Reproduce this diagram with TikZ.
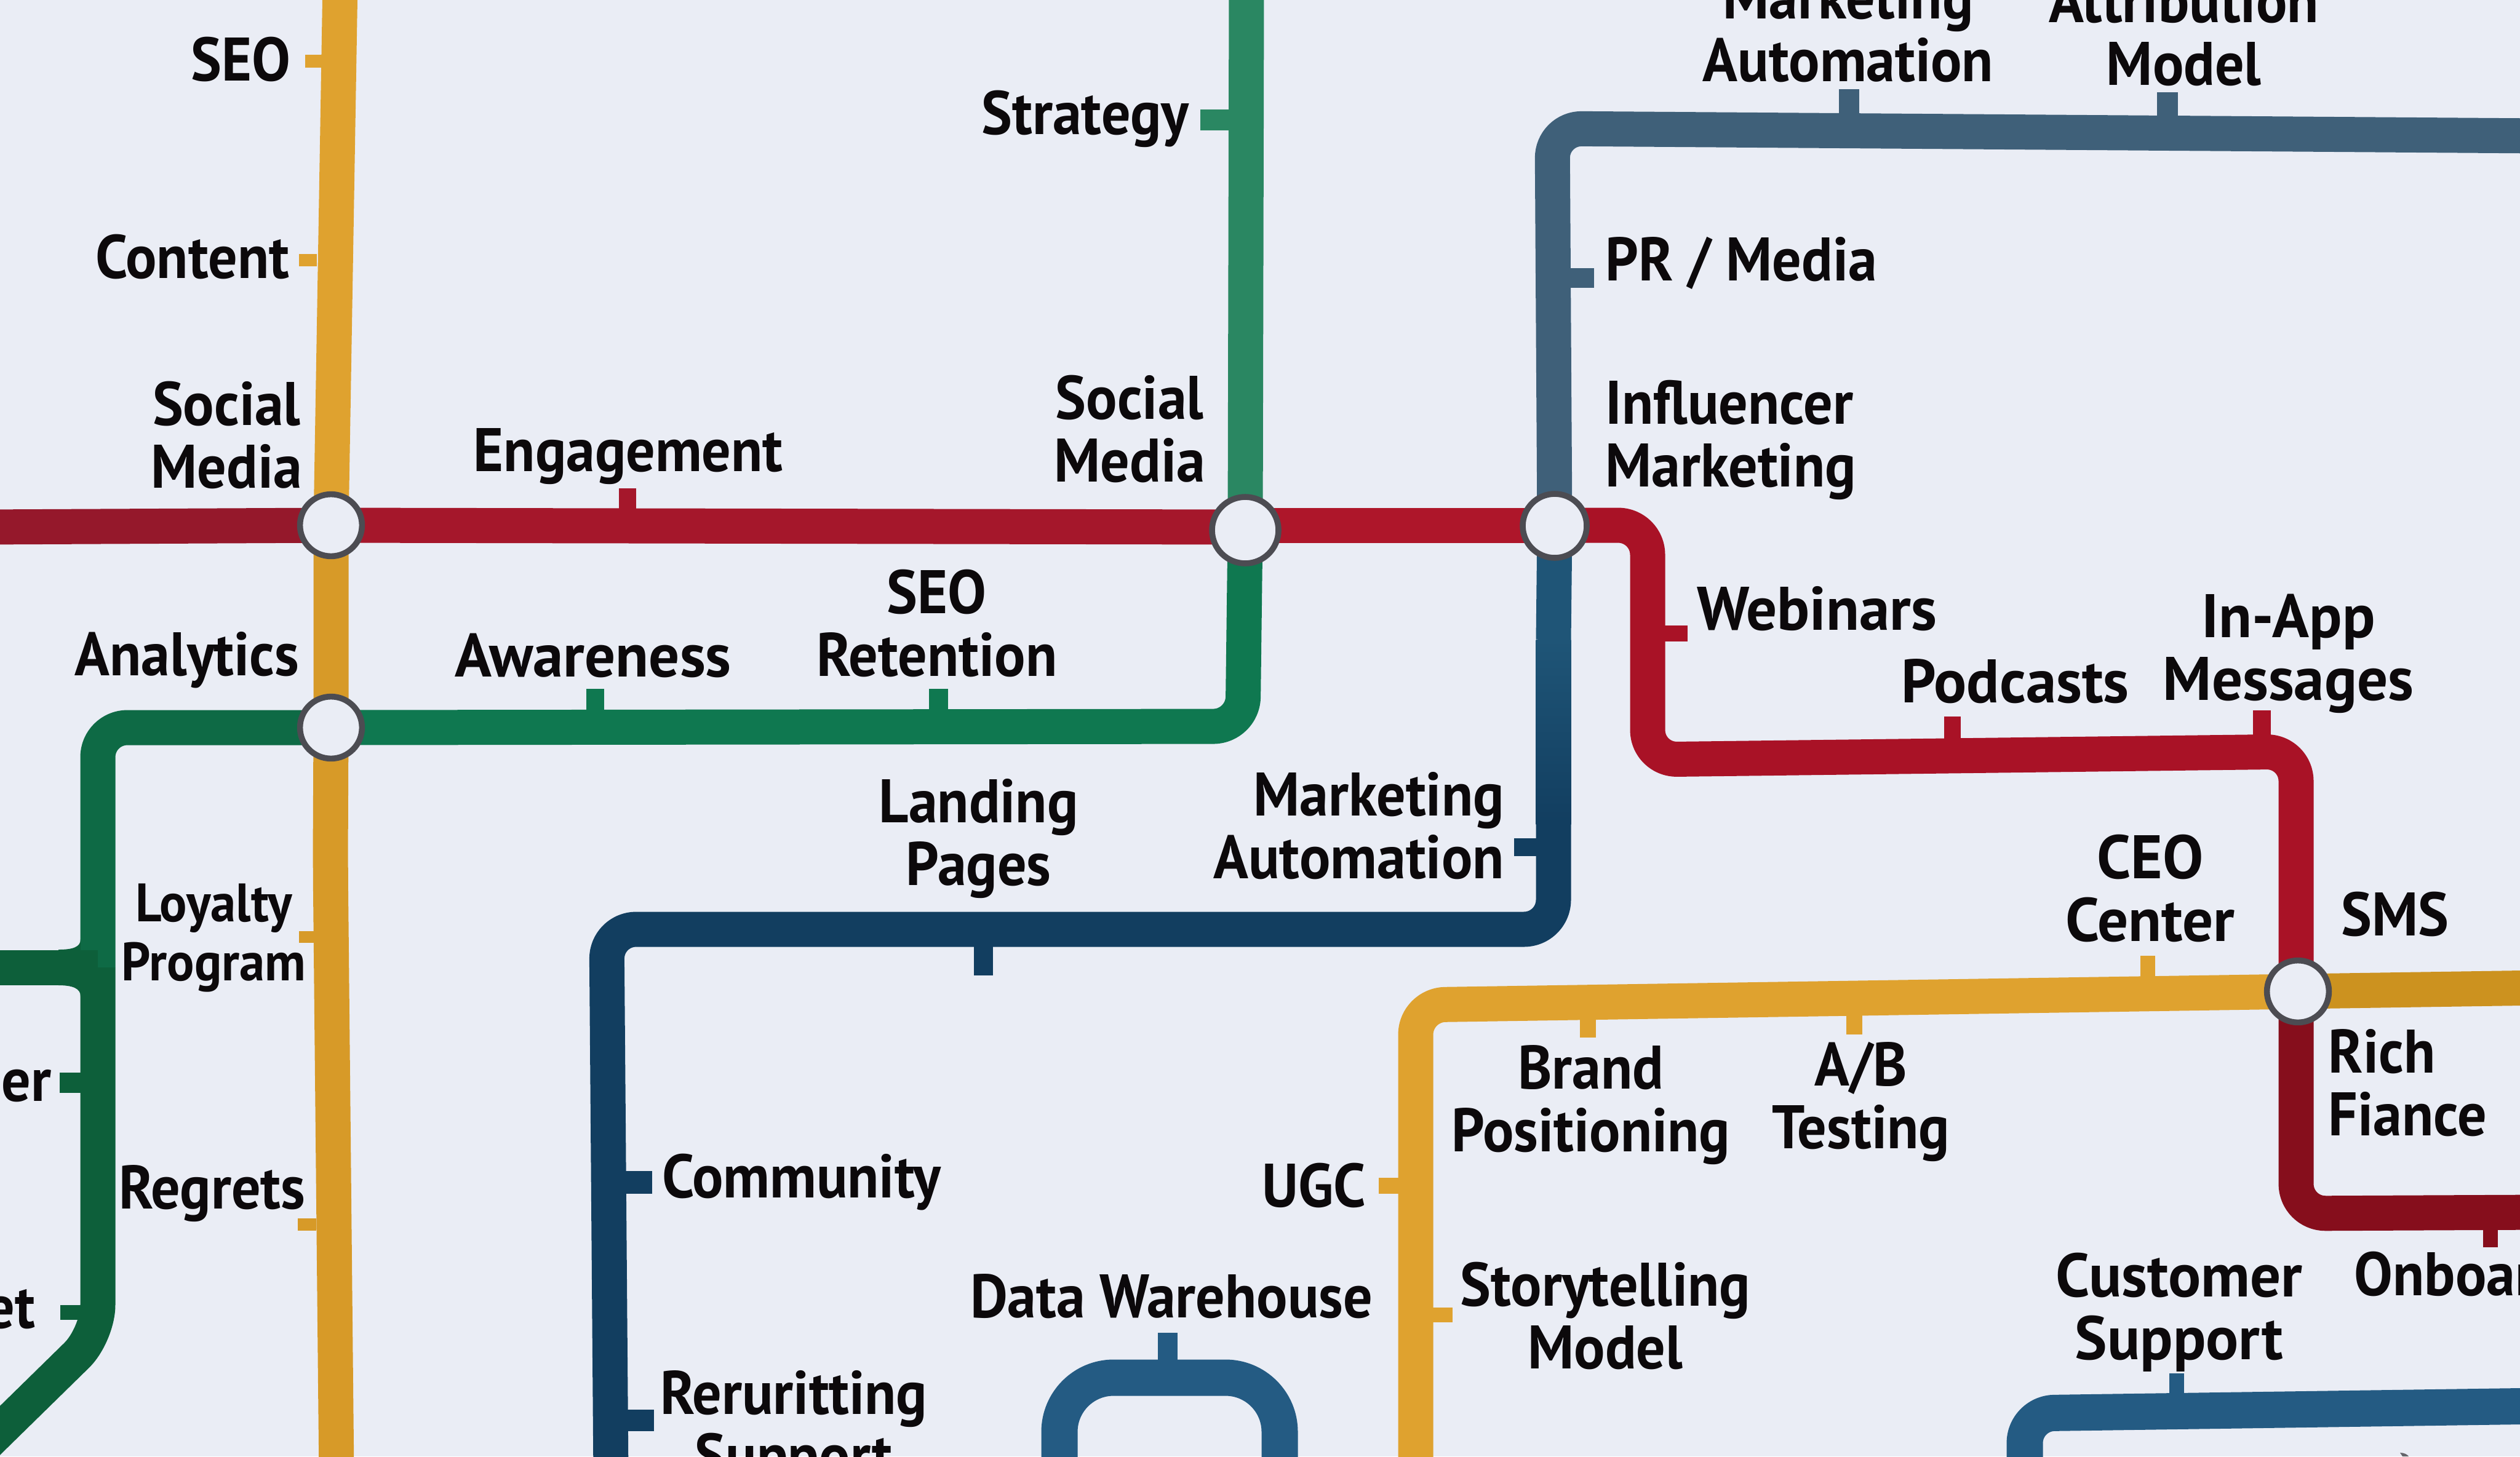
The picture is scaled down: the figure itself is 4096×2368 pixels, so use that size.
\documentclass[tikz,border=0pt]{standalone}
\usepackage{fontspec}
\setmainfont{PT Sans}[FakeStretch=0.94]
\newfontfamily\widefont{PT Sans}[FakeStretch=0.99]
\pgfdeclarelayer{lines}
\pgfsetlayers{lines,main}
\definecolor{paper}{HTML}{EAEDF5}
\definecolor{ring}{HTML}{4C4C52}
\definecolor{ink}{HTML}{0C090B}
\definecolor{redA}{HTML}{95182B}
\definecolor{redB}{HTML}{A5172B}
\definecolor{redC}{HTML}{AE162A}
\definecolor{redD}{HTML}{A91226}
\definecolor{redE}{HTML}{860E1C}
\definecolor{greenA}{HTML}{2A8762}
\definecolor{greenB}{HTML}{0F7850}
\definecolor{greenC}{HTML}{0E6A45}
\definecolor{greenD}{HTML}{0D5F3A}
\definecolor{goldA}{HTML}{DFA22F}
\definecolor{goldB}{HTML}{D79A28}
\definecolor{goldC}{HTML}{CC921F}
\definecolor{slate}{HTML}{3F6079}
\definecolor{navyA}{HTML}{1F5577}
\definecolor{navyB}{HTML}{123E60}
\definecolor{steel}{HTML}{245B83}
\tikzset{
  metro/.style={line width=14.25pt,rounded corners=12pt,line cap=butt,line join=round},
  wide/.style={metro,line width=14.75pt},
  hub/.style={circle,draw=ring,fill=paper,line width=2.4pt,minimum size=25.2pt,inner sep=0pt,outer sep=0pt},
  lab/.style={font=\fontsize{25}{25.5}\selectfont\bfseries,text=ink,align=center,inner sep=0pt,outer sep=0pt},
  labw/.style={lab,font=\fontsize{25}{25.5}\selectfont\widefont\bfseries},
  labsmall/.style={lab,font=\fontsize{22}{24}\selectfont\bfseries},
  stub/.style={rectangle,draw=none,inner sep=0pt,outer sep=0pt},
}
\newcommand{\stubbox}[6]{%
  \pgfmathsetmacro{\cxv}{(#2+#4)/2}\pgfmathsetmacro{\cyv}{(#3+#5)/2}%
  \pgfmathsetmacro{\wv}{(#4-#2)*.25}\pgfmathsetmacro{\hv}{(#5-#3)*.25}%
  \node[stub,fill=#6,minimum width=\wv pt,minimum height=\hv pt] (#1) at (\cxv,\cyv) {};}
\begin{document}
\begin{tikzpicture}[x=.25pt,y=-.25pt]
\useasboundingbox (0,0) rectangle (4096,2368);
\begin{pgfonlayer}{lines}
\fill[paper] (0,0) rectangle (4096,2368);
\end{pgfonlayer}
% interchanges
\node[hub] (hubA) at (538,854) {};
\node[hub] (hubB) at (538,1183) {};
\node[hub,minimum size=27pt] (hubC) at (2024,862) {};
\node[hub,minimum size=26pt] (hubD) at (2527,855) {};
\node[hub] (hubE) at (3735,1612) {};
% way points
\coordinate (yT) at (553,-30);
\coordinate (yM) at (537,1400);
\coordinate (yB) at (547,2400);
\coordinate (rL) at (-30,857);
\coordinate (r1) at (2678,854);
\coordinate (r2) at (2678,1235);
\coordinate (r3) at (3732,1222);
\coordinate (r4) at (3732,1973);
\coordinate (rR) at (4130,1971);
\coordinate (gT) at (2026,-30);
\coordinate (g1) at (2020,1181);
\coordinate (g2) at (159,1183);
\coordinate (g3) at (159,2170);
\coordinate (g4) at (-40,2365);
\coordinate (gbL) at (-30,1573);
\coordinate (gbR) at (159,1573);
\coordinate (b1) at (2523,209);
\coordinate (bR) at (4130,221);
\coordinate (b2) at (2525,1511);
\coordinate (b3) at (986,1511);
\coordinate (b4) at (993,2400);
\coordinate (bS) at (2525,1340);
\coordinate (bU) at (2525,1040);
\coordinate (aL) at (1722,2400);
\coordinate (aTL) at (1722,2240);
\coordinate (aTR) at (2080,2240);
\coordinate (aR) at (2080,2400);
\coordinate (c1) at (3291,2400);
\coordinate (c2) at (3291,2298);
\coordinate (cR) at (4130,2286);
\coordinate (o1) at (2301,2400);
\coordinate (o2) at (2301,1634);
\coordinate (oR) at (4130,1606);
\begin{pgfonlayer}{lines}
% gold trunk
\draw[metro,goldA] (yT) -- (hubA.center);
\draw[metro,goldB] (hubA.center) -- (hubB.center) -- (yM) -- (yB);
% red line
\draw[metro,redA] (rL) -- (hubA.center);
\draw[metro,redB] (hubA.center) -- (hubC.center |- rL);
\draw[metro,redC] (hubC.center |- r1) -- (hubD.center |- r1);
\draw[metro,redD] (hubD.center |- r1) -- (r1) -- (r2) -- (r3) -- (r3 |- hubE.center);
\draw[metro,redE] (r3 |- hubE.center) -- (r4) -- (rR);
% green line
\draw[metro,greenA] (gT) -- (hubC.center);
\draw[metro,greenB] (hubC.center) -- (g1) -- (hubB.center);
\draw[metro,greenC] (hubB.center) -- (g2) -- (gbR);
\draw[metro,greenD] (gbR) -- (g3) -- (g4);
\draw[metro,greenD,rounded corners=0pt] (gbL) -- (gbR);
\fill[greenD] (95,1544) .. controls (118,1544) and (131,1540) .. (131,1527) -- (131,1620) .. controls (131,1607) and (118,1602) .. (95,1602) -- cycle;
% slate / navy line
\draw[metro,slate] (hubD.center) -- (b1) -- (bR);
\draw[metro,navyA] (hubD.center) -- (bU);
\shade[top color=navyA,bottom color=navyB] (2496.5,1040) rectangle (2553.5,1340);
\draw[metro,navyB] (bS) -- (b2) -- (b3) -- (b4);
% arch
\draw[wide,steel,rounded corners=22pt] (aL) -- (aTL) -- (aTR) -- (aR);
% lower blue
\draw[wide,steel] (c1) -- (c2) -- (cR);
% gold second line
\draw[metro,goldA] (o1) -- (o2) -- (hubE.center);
\draw[metro,goldC] (hubE.center) -- (oR);
% stubs
\stubbox{sSeo}{496}{89}{525}{110}{goldA}
\stubbox{sContent}{486}{413}{515}{433}{goldA}
\stubbox{sLoyal}{486}{1514}{512}{1533}{goldB}
\stubbox{sRegret}{484}{1981}{514}{2001}{goldB}
\stubbox{sStrat}{1951}{178}{1998}{212}{greenA}
\stubbox{sEngage}{1006}{794}{1034}{832}{redB}
\stubbox{sAware}{953}{1120}{982}{1155}{greenB}
\stubbox{sRet}{1510}{1120}{1541}{1155}{greenB}
\stubbox{sEr}{97}{1744}{133}{1777}{greenD}
\stubbox{sEt}{98}{2122}{133}{2146}{greenD}
\stubbox{sLand}{1583}{1535}{1614}{1586}{navyB}
\stubbox{sAuto}{2461}{1363}{2497}{1392}{navyB}
\stubbox{sComm}{1014}{1904}{1060}{1941}{navyB}
\stubbox{sRecr}{1018}{2292}{1063}{2327}{navyB}
\stubbox{sPR}{2550}{436}{2591}{468}{slate}
\stubbox{sMA}{2989}{145}{3022}{190}{slate}
\stubbox{sAM}{3506}{150}{3540}{198}{slate}
\stubbox{sWeb}{2704}{1017}{2743}{1043}{redD}
\stubbox{sPod}{3160}{1165}{3187}{1210}{redD}
\stubbox{sApp}{3662}{1155}{3691}{1195}{redD}
\stubbox{sOnb}{4036}{1995}{4060}{2028}{redE}
\stubbox{sCeo}{3479}{1554}{3503}{1590}{goldA}
\stubbox{sBrand}{2568}{1655}{2594}{1687}{goldA}
\stubbox{sAB}{3001}{1651}{3027}{1682}{goldA}
\stubbox{sUgc}{2241}{1915}{2275}{1941}{goldA}
\stubbox{sStory}{2328}{2126}{2361}{2150}{goldA}
\stubbox{sDW}{1882}{2167}{1914}{2215}{steel}
\stubbox{sCust}{3526}{2233}{3550}{2275}{steel}
\fill[ring!85!paper] (3901,2362) .. controls (3908,2362) and (3913,2365) .. (3915,2368) -- (3905,2368) -- cycle;
\end{pgfonlayer}
% labels (coordinates in a 1568-wide grid)
\begin{scope}[x=.653pt,y=-.653pt]
\node[lab,anchor=east] (tSeo) at (181,37) {SEO};
\node[lab,anchor=east] (tContent) at (180,160) {Content};
\node[lab] (tSM1) at (141,271) {Social\\Media};
\node[lab,anchor=east] (tAna) at (186,411) {Analytics};
\node[labsmall] (tLoyal) at (133,584) {Loyalty\\Program};
\node[lab,anchor=east] (tReg) at (190,743) {Regrets};
\node[lab,anchor=east] (tEr) at (32,676) {er};
\node[lab,anchor=east] (tEt) at (22,815) {et};
\node[lab] (tEng) at (391,284) {Engagement};
\node[labw] (tAwa) at (369,408) {Awareness};
\node[lab] (tRet) at (583,388) {SEO\\Retention};
\node[lab,anchor=east] (tStr) at (740,74) {Strategy};
\node[lab] (tSM2) at (703,267) {Social\\Media};
\node[lab] (tLP) at (609,522) {Landing\\Pages};
\node[lab,align=right,anchor=east] (tMA) at (936,514) {Marketing\\Automation};
\node[lab,anchor=west] (tCom) at (412,736) {Community};
\node[lab] (tRec) at (494,890) {Reruritting\\Support};
\node[lab] (tDW) at (729,807) {Data Warehouse};
\node[lab,anchor=east] (tUGC) at (850,738) {UGC};
\node[lab] (tBrand) at (990,688) {Brand\\Positioning};
\node[lab] (tAB) at (1158,686) {A/B\\Testing};
\node[lab] (tStory) at (999,819) {Storytelling\\Model};
\node[lab,anchor=west] (tPR) at (999,164) {PR / Media};
\node[lab,align=left,anchor=west] (tInf) at (999,274) {Influencer\\Marketing};
\node[labw,anchor=west] (tWeb) at (1056,379) {Webinars};
\node[labw] (tPod) at (1254,424) {Podcasts};
\node[labw] (tApp) at (1424,407) {In-App\\Messages};
\node[labw] (tCEO) at (1338,553) {CEO\\Center};
\node[lab,anchor=west] (tSMS) at (1457,569) {SMS};
\node[lab,align=left,anchor=west] (tRich) at (1449,674) {Rich\\Fiance};
\node[labw] (tCust) at (1356,817) {Customer\\Support};
\node[lab,anchor=west] (tOnb) at (1465,797) {Onboarding};
\node[lab] (tTM) at (1150,18) {Marketing\\Automation};
\node[lab] (tTA) at (1359,20) {Attribution\\Model};
\end{scope}
\end{tikzpicture}
\end{document}
